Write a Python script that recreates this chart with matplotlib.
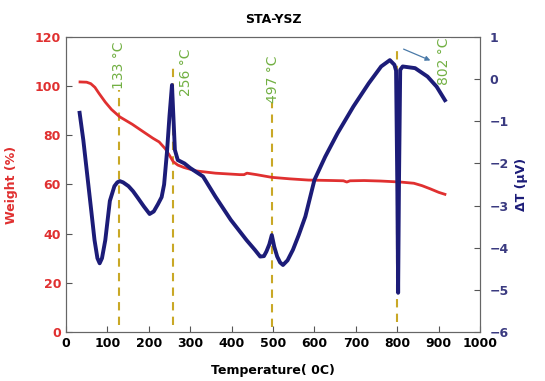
import matplotlib
matplotlib.use("Agg")
import matplotlib.pyplot as plt

# Weight (TG) curve
tg_temp = [34, 50, 60, 70, 80, 95, 110, 130, 160, 188, 210, 225, 240, 250, 259, 270, 285, 315, 361, 420, 430, 437, 460, 497, 540, 585, 645, 670, 678, 686, 720, 760, 807, 840, 860, 880, 900, 915]
tg_weight = [101.7, 101.6, 101.0, 99.5, 97.0, 93.5, 90.5, 87.5, 84.5, 81.3, 78.8, 77.3, 74.5, 71.8, 69.3, 67.9, 66.9, 65.5, 64.6, 64.0, 64.0, 64.6, 64.0, 62.9, 62.3, 61.8, 61.6, 61.5, 61.0, 61.5, 61.6, 61.4, 61.0, 60.5, 59.5, 58.2, 56.8, 56.0]

# DTA curve
dta_temp = [33, 42, 54, 62, 69, 76, 81.4, 87, 95, 106, 117, 124, 130, 138, 151, 162, 173, 188, 202, 212, 222, 231, 237, 244, 250, 256, 263, 270, 286, 300, 331, 361, 398, 436, 456, 469, 478, 484, 491, 497, 503, 510, 517, 524, 535, 548, 562, 578, 600, 626, 656, 694, 731, 761, 782, 793, 797, 800, 802, 804, 807, 813, 843, 873, 895, 915]
dta_dt = [-0.80, -1.45, -2.50, -3.20, -3.82, -4.25, -4.37, -4.25, -3.82, -2.89, -2.54, -2.45, -2.42, -2.45, -2.54, -2.66, -2.81, -3.02, -3.20, -3.14, -2.97, -2.80, -2.50, -1.72, -0.87, -0.14, -1.68, -1.92, -2.00, -2.11, -2.31, -2.79, -3.34, -3.82, -4.05, -4.21, -4.20, -4.09, -3.92, -3.70, -3.98, -4.21, -4.35, -4.41, -4.30, -4.05, -3.70, -3.26, -2.39, -1.84, -1.28, -0.65, -0.10, 0.30, 0.45, 0.34, 0.20, -2.5, -5.07, -2.5, 0.22, 0.30, 0.26, 0.06, -0.18, -0.50]

# Marked peak temperatures (dashed-line positions as drawn) and line extents (weight-axis units)
peak_temps = [127, 258, 497, 800]
peak_labels = ["133 °C", "256 °C", "497 °C", "802 °C"]
line_tops = [98.5, 108, 98.5, 114.7]
line_bottoms = [2.8, 2.8, 2.0, 4.0]

red = "#e03030"
navy = "#1c1c78"
green = "#72b043"
gold = "#c9a826"

fig = plt.figure(figsize=(5.45, 3.81), dpi=100)
ax = fig.add_axes([0.121, 0.1286, 0.76, 0.7744])
ax2 = ax.twinx()

ax.plot(tg_temp, tg_weight, color=red, lw=2.0, zorder=3)
ax2.plot(dta_temp, dta_dt, color=navy, lw=2.8, zorder=4, solid_joinstyle="round")

for t, top, bot in zip(peak_temps, line_tops, line_bottoms):
    ax.plot([t, t], [bot, top], ls=(0, (4, 3)), color=gold, lw=1.5, zorder=2)

# labels
label_x = [127, 290, 500, 912]
label_y = [108.5, 105.5, 103, 110]
for lx, ly, lab in zip(label_x, label_y, peak_labels):
    ax.text(lx, ly, lab, rotation=90, color=green, fontsize=10, ha="center", va="center", zorder=5,
            bbox=dict(facecolor="white", edgecolor="none", pad=0.3))
ax.annotate("", xy=(886, 110), xytext=(809, 115.5),
            arrowprops=dict(arrowstyle="-|>", color="#4a7aa8", lw=0.9, mutation_scale=7))

ax.set_xlim(0, 1000)
ax.set_ylim(0, 120)
ax2.set_ylim(-6, 1)
ax.set_xticks(range(0, 1001, 100))
ax.set_yticks(range(0, 121, 20))
ax2.set_yticks(range(-6, 2, 1))

for lab in ax.get_xticklabels():
    lab.set_fontweight("bold")
for lab in ax.get_yticklabels():
    lab.set_fontweight("bold")
    lab.set_color(red)
for lab in ax2.get_yticklabels():
    lab.set_fontweight("bold")
    lab.set_color("#3a3a80")

ax.tick_params(axis="both", direction="in", labelsize=9, length=4, color="#555555")
ax2.tick_params(axis="y", direction="in", labelsize=9, length=4, color="#555555", pad=7)
for a in (ax, ax2):
    for s in a.spines.values():
        s.set_color("#666666")

ax.set_title("STA-YSZ", fontsize=9, fontweight="bold", pad=10)
ax.set_xlabel("Temperature( 0C)", fontsize=9, fontweight="bold", labelpad=10)
ax.set_ylabel("Weight (%)", fontsize=9, fontweight="bold", color=red, labelpad=12)
ax2.set_ylabel("ΔT (µV)", fontsize=9, fontweight="bold", color=navy, labelpad=4)

fig.savefig("out.png", dpi=100)
